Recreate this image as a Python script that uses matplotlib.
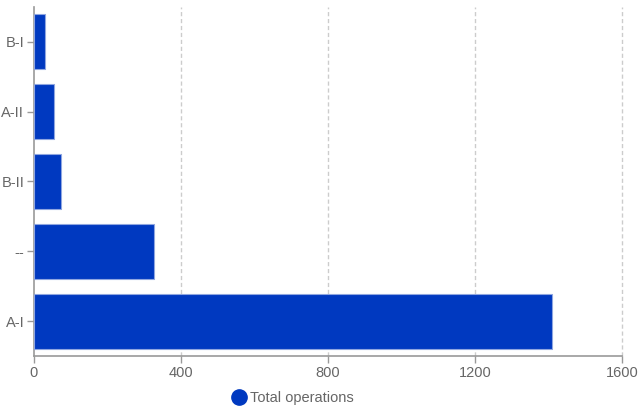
import matplotlib.pyplot as plt
from matplotlib.lines import Line2D

plt.rcParams["font.family"] = ["Liberation Sans", "DejaVu Sans"]

# data, top to bottom
categories = ["B-I", "A-II", "B-II", "--", "A-I"]
operations = [30, 55, 73, 326, 1410]
xticks = [0, 400, 800, 1200, 1600]

bar_color = "#0039c0"
grey = "#666666"

fig = plt.figure(figsize=(6.41, 4.12), dpi=100)
W, H = 641, 412
ax = fig.add_axes([34 / W, 1 - 356 / H, (622 - 34) / W, (356 - 7) / H])

ypos = list(range(len(categories)))
ax.barh(ypos, operations, height=0.79, color=bar_color,
        edgecolor="#8fa6e0", linewidth=0.8, zorder=3)

ax.set_ylim(len(categories) - 0.5, -0.5)
ax.set_yticks(ypos)
ax.set_yticklabels(categories)
ax.set_xlim(0, 1600)
ax.set_xticks(xticks)
ax.set_xticklabels([str(t) for t in xticks])

# dashed vertical grid
for t in xticks[1:]:
    ax.axvline(t, color="#cccccc", linestyle=(0, (3, 2)), linewidth=1,
               zorder=0, clip_on=False)

for s in ["top", "right"]:
    ax.spines[s].set_visible(False)
for s in ["left", "bottom"]:
    ax.spines[s].set_color("#999999")
    ax.spines[s].set_linewidth(1.2)

ax.tick_params(axis="both", colors="#999999", labelcolor=grey, labelsize=10.5,
               length=5, width=1, pad=2)

# legend
handle = Line2D([], [], marker="o", color="none", markerfacecolor=bar_color,
                markeredgecolor=bar_color, markersize=11)
fig.legend([handle], ["Total operations"], loc="center", bbox_to_anchor=(292 / W, 1 - 398 / H),
           frameon=False, fontsize=10.5, labelcolor=grey, handletextpad=0.1,
           handlelength=1.2)

fig.savefig("out.png", dpi=100)
